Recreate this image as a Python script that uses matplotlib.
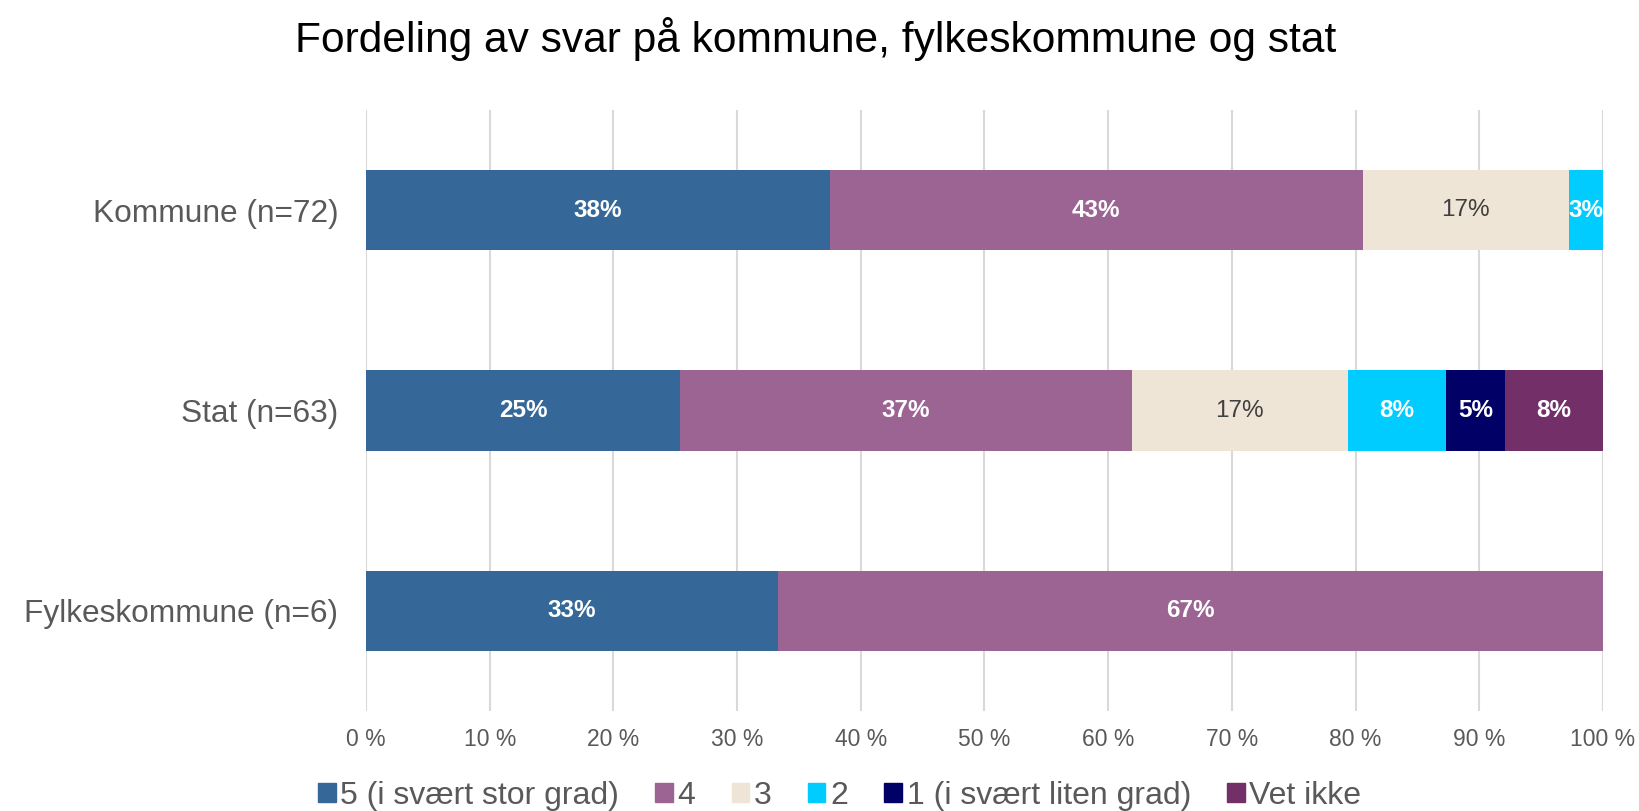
import matplotlib
matplotlib.use('Agg')
from matplotlib import pyplot as plt
from matplotlib.patches import Patch
import numpy as np

plt.rcParams['font.family'] = ['Liberation Sans', 'DejaVu Sans']

# data (share of answers, %)
groups = ['Kommune (n=72)', 'Stat (n=63)', 'Fylkeskommune (n=6)']
answers = ['5 (i svært stor grad)', '4', '3', '2', '1 (i svært liten grad)', 'Vet ikke']
kommune = [37.5, 43.06, 16.67, 2.78, 0.0, 0.0]
stat = [25.4, 36.51, 17.46, 7.94, 4.76, 7.94]
fylke = [33.33, 66.67, 0.0, 0.0, 0.0, 0.0]

colors = ['#356898', '#9b6493', '#efe5d7', '#00ccff', '#000066', '#733068']
text_colors = ['white', 'white', '#404040', 'white', 'white', 'white']
text_weight = ['bold', 'bold', 'normal', 'bold', 'bold', 'bold']

values = np.array([kommune, stat, fylke])
y = np.arange(len(groups))

fig = plt.figure(figsize=(16.4, 8.11), dpi=100)
ax = fig.add_axes([366 / 1640, 1 - 711 / 811, (1603 - 366) / 1640, 601 / 811])

left = np.zeros(len(groups))
for i, name in enumerate(answers):
    bars = ax.barh(y, values[:, i], left=left, height=0.4, color=colors[i],
                   label=name, zorder=3)
    for j, b in enumerate(bars):
        v = values[j, i]
        if v > 0:
            ax.text(left[j] + v / 2, y[j], f'{round(v):.0f}%', ha='center', va='center',
                    fontsize=17.5, color=text_colors[i], fontweight=text_weight[i], zorder=4)
    left += values[:, i]

ax.set_xlim(0, 100)
ax.set_ylim(2.5, -0.5)
ax.set_xticks(np.arange(0, 101, 10))
ax.set_xticklabels([f'{t} %' for t in range(0, 101, 10)])
ax.set_yticks(y)
ax.set_yticklabels(groups)
ax.tick_params(axis='x', length=0, pad=12, labelsize=16.5, labelcolor='#595959')
ax.tick_params(axis='y', length=0, pad=20, labelsize=22.8, labelcolor='#595959')
ax.grid(axis='x', color='#d9d9d9', linewidth=1.5, zorder=0)
for s in ax.spines.values():
    s.set_visible(False)

handles = [Patch(color=c) for c in colors]
fig.legend(handles, answers, loc='center', bbox_to_anchor=(0.512, 0.019), ncol=6,
           frameon=False, fontsize=23, labelcolor='#595959', handlelength=0.55,
           handleheight=0.55, handletextpad=0.15, columnspacing=1.13)

fig.text(0.4975, 0.952, 'Fordeling av svar på kommune, fylkeskommune og stat',
         ha='center', va='center', fontsize=30.6, color='black')

fig.savefig('out.png')
